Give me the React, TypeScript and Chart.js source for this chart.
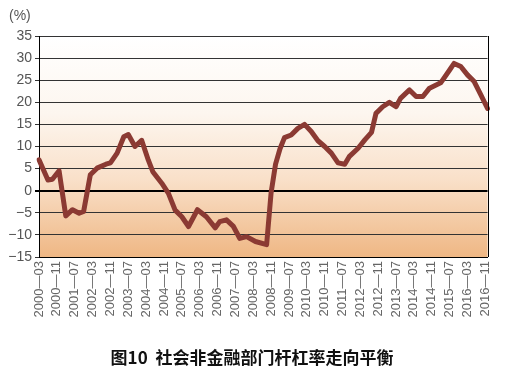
import React, { useEffect, useRef } from "react";
import { Chart, registerables } from "chart.js";

Chart.register(...registerables);

// Monthly category axis: 2000-03 .. 2016-12
const startYear = 2000;
const startMonth = 3;
const monthCount = 202;

// Vertices of the leverage-ratio line (%)
const vertexMonths = [
  "2000-03", "2000-07", "2000-09", "2000-12", "2001-03", "2001-06", "2001-09", "2001-11",
  "2002-02", "2002-05", "2002-09", "2002-11", "2003-02", "2003-05", "2003-07", "2003-10",
  "2004-01", "2004-04", "2004-06", "2004-10", "2005-01", "2005-04", "2005-07", "2005-10",
  "2006-02", "2006-06", "2006-10", "2006-12", "2007-03", "2007-06", "2007-09", "2007-12",
  "2008-04", "2008-09", "2008-11", "2009-01", "2009-03", "2009-05", "2009-08", "2009-11",
  "2010-02", "2010-05", "2010-08", "2010-11", "2011-02", "2011-05", "2011-08", "2011-10",
  "2012-02", "2012-05", "2012-08", "2012-10", "2013-01", "2013-04", "2013-07", "2013-09",
  "2014-01", "2014-04", "2014-07", "2014-10", "2015-03", "2015-07", "2015-09", "2015-12",
  "2016-03", "2016-06", "2016-09", "2016-12",
];
const vertexValues = [
  7.0, 2.4, 2.6, 4.5, -5.7, -4.3, -5.1, -4.7,
  3.6, 5.1, 6.0, 6.3, 8.5, 12.2, 12.7, 10.0,
  11.4, 6.9, 4.3, 1.7, -0.6, -4.4, -5.9, -8.1,
  -4.3, -5.9, -8.4, -7.0, -6.6, -8.0, -10.8, -10.4,
  -11.5, -12.2, -0.5, 6.0, 9.5, 12.0, 12.6, 14.1,
  15.0, 13.4, 11.3, 10.0, 8.5, 6.3, 6.0, 7.7,
  9.6, 11.5, 13.2, 17.5, 19.0, 20.0, 19.0, 20.9,
  22.8, 21.3, 21.3, 23.2, 24.4, 27.3, 28.8, 28.1,
  26.2, 24.7, 21.7, 18.6,
];

const yTicksMin = -15;
const yTicksMax = 35;
const yStep = 5;
const tickEvery = 8;
const yUnit = "(%)";
const title = "图10  社会非金融部门杆杠率走向平衡";

const categories: string[] = [];
for (let i = 0; i < monthCount; i++) {
  const m0 = startMonth - 1 + i;
  const y = startYear + Math.floor(m0 / 12);
  const m = (m0 % 12) + 1;
  categories.push(`${y}-${m < 10 ? "0" + m : m}`);
}

export default function App() {
  const ref = useRef<HTMLCanvasElement | null>(null);

  useEffect(() => {
    if (!ref.current) return;
    const data: (number | null)[] = categories.map(() => null);
    vertexMonths.forEach((mo, i) => {
      const idx = categories.indexOf(mo);
      if (idx >= 0) data[idx] = vertexValues[i];
    });

    const bgPlugin = {
      id: "bg",
      beforeDraw(chart: any) {
        const { ctx, chartArea: a } = chart;
        const g = ctx.createLinearGradient(0, a.top, 0, a.bottom);
        g.addColorStop(0, "#ffffff");
        g.addColorStop(0.35, "#fdf6ef");
        g.addColorStop(0.65, "#f9e0c9");
        g.addColorStop(1, "#efb784");
        ctx.save();
        ctx.fillStyle = g;
        ctx.fillRect(a.left, a.top, a.right - a.left, a.bottom - a.top);
        ctx.restore();
      },
      afterDraw(chart: any) {
        const { ctx, chartArea: a } = chart;
        ctx.save();
        ctx.strokeStyle = "#000";
        ctx.lineWidth = 1;
        ctx.beginPath();
        ctx.moveTo(Math.round(a.right) + 0.5, a.top);
        ctx.lineTo(Math.round(a.right) + 0.5, a.bottom);
        ctx.stroke();
        ctx.fillStyle = "#555";
        ctx.font = "14px 'Liberation Sans', sans-serif";
        ctx.textBaseline = "middle";
        ctx.textAlign = "left";
        ctx.fillText(yUnit, 9, 16);
        ctx.fillStyle = "#111";
        ctx.font = "bold 17px 'Noto Sans CJK SC', sans-serif";
        ctx.textAlign = "center";
        ctx.fillText(title, 252, 358);
        ctx.restore();
      },
    };

    const chart = new Chart(ref.current, {
      type: "line",
      data: {
        labels: categories,
        datasets: [
          {
            data,
            borderColor: "#8b3a33",
            borderWidth: 5,
            pointRadius: 0,
            tension: 0,
            spanGaps: true,
            borderJoinStyle: "round",
            borderCapStyle: "round",
          },
        ],
      },
      options: {
        animation: false,
        responsive: false,
        layout: { padding: { left: 0, right: 16, top: 36, bottom: 0 } },
        plugins: { legend: { display: false }, tooltip: { enabled: false } },
        scales: {
          x: {
            offset: false,
            grid: { display: false, drawTicks: false, tickLength: 0 },
            border: { display: true, color: "#000", width: 1 },
            ticks: {
              autoSkip: false,
              minRotation: 90,
              maxRotation: 90,
              padding: 4,
              color: "#666",
              font: { family: "'Liberation Sans', sans-serif", size: 13 },
              callback: (_v: any, i: number) =>
                i % tickEvery === 0 ? categories[i].replace("-", "—") : null,
            },
            afterFit: (s: any) => {
              s.height = 392 - 257;
            },
          },
          y: {
            min: yTicksMin,
            max: yTicksMax,
            grid: {
              color: (c: any) => (c.tick && c.tick.value === 0 ? "#000" : "#333"),
              lineWidth: (c: any) => (c.tick && c.tick.value === 0 ? 2 : 1),
              drawTicks: true,
              tickLength: 4,
            },
            border: { display: true, color: "#000", width: 1 },
            ticks: {
              stepSize: yStep,
              padding: 3,
              color: "#555",
              font: { family: "'Liberation Sans', sans-serif", size: 14 },
              callback: (v: any) => (v < 0 ? "\u2212" + Math.abs(v) : String(v)),
            },
            afterFit: (s: any) => {
              s.width = 39;
            },
          },
        },
      },
      plugins: [bgPlugin],
    });
    return () => chart.destroy();
  }, []);

  return (
    <canvas
      ref={ref}
      width={505}
      height={392}
      style={{ position: "fixed", left: 0, top: 0, width: 505, height: 392 }}
    />
  );
}
